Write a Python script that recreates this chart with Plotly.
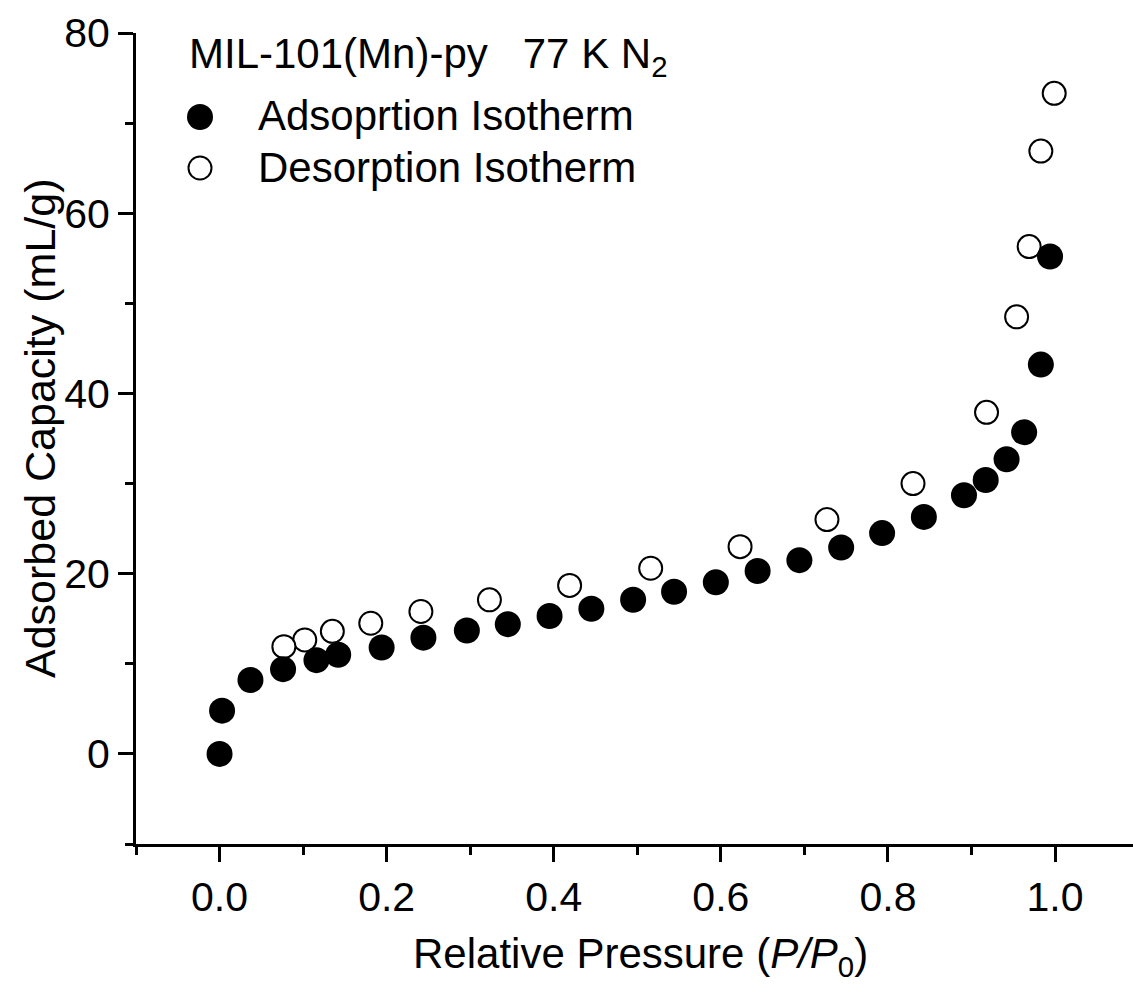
import plotly.graph_objects as go

# ---- data ----
ads_x = [0.000, 0.003, 0.037, 0.076, 0.116, 0.142, 0.194, 0.244, 0.296, 0.345, 0.395,
         0.445, 0.495, 0.544, 0.594, 0.644, 0.694, 0.744, 0.793, 0.843, 0.891, 0.917,
         0.942, 0.963, 0.983, 0.994]
ads_y = [0.0, 4.8, 8.2, 9.4, 10.4, 11.0, 11.8, 12.9, 13.7, 14.4, 15.3,
         16.1, 17.1, 18.0, 19.05, 20.3, 21.5, 22.9, 24.5, 26.3, 28.7, 30.4,
         32.7, 35.7, 43.2, 55.2]
des_x = [0.999, 0.983, 0.969, 0.954, 0.918, 0.830, 0.727, 0.623, 0.516, 0.419,
         0.323, 0.241, 0.181, 0.135, 0.102, 0.077]
des_y = [73.3, 66.9, 56.3, 48.5, 37.9, 30.0, 26.0, 23.0, 20.6, 18.7,
         17.1, 15.8, 14.5, 13.6, 12.65, 11.9]

x_ticks = [0.0, 0.2, 0.4, 0.6, 0.8, 1.0]
x_minor = [-0.1, 0.1, 0.3, 0.5, 0.7, 0.9]
y_ticks = [0, 20, 40, 60, 80]
y_minor = [-10, 10, 30, 50, 70]

title_text = "MIL-101(Mn)-py\u00a0\u00a0\u00a077 K N<sub>2</sub>"
series_names = ["Adsoprtion Isotherm", "Desorption Isotherm"]
x_title = "Relative Pressure (<i>P/P</i><sub>0</sub>)"
y_title = "Adsorbed Capacity (mL/g)"

FONT = "Arial, 'Liberation Sans', sans-serif"
W, H = 1133, 984
L, R, T, B = 136, 0, 33, 140


def px(xp):
    return (xp - L) / (W - L - R)


def py(yp):
    return (H - B - yp) / (H - T - B)


fig = go.Figure()
fig.add_trace(go.Scatter(
    x=des_x, y=des_y, mode="markers", name=series_names[1],
    marker=dict(symbol="circle", size=23, color="white",
                line=dict(color="black", width=2)),
    showlegend=False))
fig.add_trace(go.Scatter(
    x=ads_x, y=ads_y, mode="markers", name=series_names[0],
    marker=dict(symbol="circle", size=26, color="black",
                line=dict(color="black", width=0)),
    showlegend=False))

# legend (drawn manually to match the large symbols)
fig.add_annotation(x=px(187), y=py(57), xref="paper", yref="paper",
                   text=title_text, showarrow=False, xanchor="left", yanchor="middle",
                   font=dict(family=FONT, size=42, color="black"))
fig.add_annotation(x=px(256), y=py(116), xref="paper", yref="paper",
                   text=series_names[0], showarrow=False, xanchor="left", yanchor="middle",
                   font=dict(family=FONT, size=42, color="black"))
fig.add_annotation(x=px(256), y=py(167), xref="paper", yref="paper",
                   text=series_names[1], showarrow=False, xanchor="left", yanchor="middle",
                   font=dict(family=FONT, size=42, color="black"))
fig.add_shape(type="circle", xref="paper", yref="paper",
              xsizemode="pixel", ysizemode="pixel",
              xanchor=px(200), yanchor=py(117), x0=-13, x1=13, y0=-13, y1=13,
              fillcolor="black", line=dict(width=0))
fig.add_shape(type="circle", xref="paper", yref="paper",
              xsizemode="pixel", ysizemode="pixel",
              xanchor=px(200), yanchor=py(168), x0=-11.5, x1=11.5, y0=-11.5, y1=11.5,
              fillcolor="white", line=dict(width=2, color="black"))

# axis titles
fig.add_annotation(x=px(411), y=py(956), xref="paper", yref="paper",
                   text=x_title, showarrow=False, xanchor="left", yanchor="middle",
                   font=dict(family=FONT, size=42, color="black"))
fig.add_annotation(x=px(40), y=py(428), xref="paper", yref="paper",
                   text=y_title, showarrow=False, textangle=-90,
                   xanchor="center", yanchor="middle",
                   font=dict(family=FONT, size=43, color="black"))

fig.update_layout(
    width=W, height=H,
    margin=dict(l=L, r=R, t=T, b=B, autoexpand=False),
    paper_bgcolor="white", plot_bgcolor="white",
    font=dict(family=FONT, size=40, color="black"),
    showlegend=False,
)
fig.update_xaxes(
    range=[-0.1, 1.0933], showgrid=False, zeroline=False,
    showline=True, linecolor="black", linewidth=3,
    ticks="outside", ticklen=15, tickwidth=3, tickcolor="black",
    tickvals=x_ticks, ticktext=[f"{v:.1f}" for v in x_ticks],
    tickfont=dict(family=FONT, size=41, color="black"),
    minor=dict(tickvals=x_minor, ticks="outside", ticklen=8, tickwidth=3, tickcolor="black", showgrid=False),
    automargin=False,
)
fig.update_yaxes(
    range=[-10, 80], showgrid=False, zeroline=False,
    showline=True, linecolor="black", linewidth=3,
    ticks="outside", ticklen=15, tickwidth=3, tickcolor="black",
    tickvals=y_ticks, ticktext=[str(v) for v in y_ticks],
    tickfont=dict(family=FONT, size=41, color="black"),
    minor=dict(tickvals=y_minor, ticks="outside", ticklen=8, tickwidth=3, tickcolor="black", showgrid=False),
    automargin=False,
)

fig.write_html("out.html")
